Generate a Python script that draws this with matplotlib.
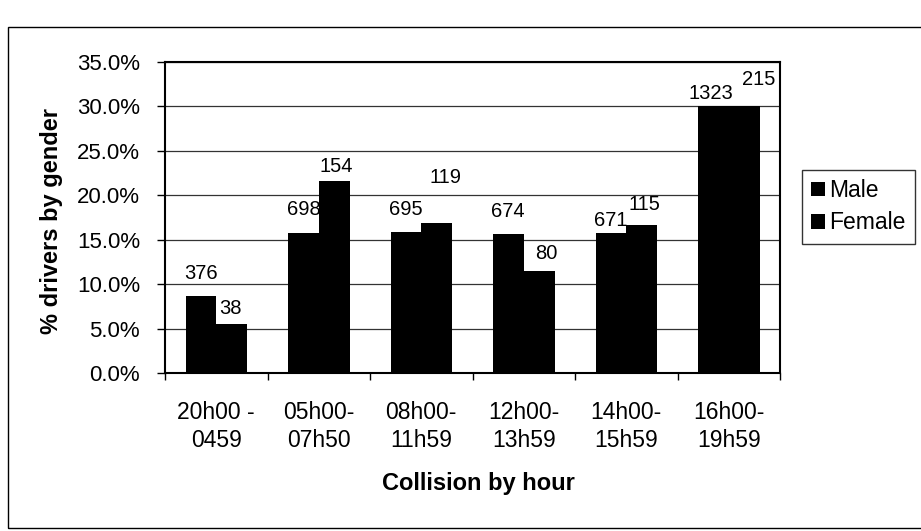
import matplotlib
matplotlib.use("Agg")
import matplotlib.pyplot as plt
import numpy as np
from matplotlib.patches import Patch, Rectangle
from matplotlib.ticker import FuncFormatter

plt.rcParams['font.family'] = ['Liberation Sans', 'DejaVu Sans']

# data
hours = ["20h00 -\n0459", "05h00-\n07h50", "08h00-\n11h59",
         "12h00-\n13h59", "14h00-\n15h59", "16h00-\n19h59"]
male_pct = [8.7, 15.8, 15.9, 15.6, 15.7, 30.1]
female_pct = [5.5, 21.6, 16.9, 11.5, 16.6, 30.1]
male_count = [376, 698, 695, 674, 671, 1323]
female_count = [38, 154, 119, 80, 115, 215]

# label nudges (pixels) as placed on the original sheet
male_nudge = [(0, 22), (0, 23), (0, 22), (-1, 23), (0, 13), (-3, 12)]
female_nudge = [(-1, 16), (2, 15), (9, 45), (7, 17), (3, 21), (15, 26)]

fig = plt.figure(figsize=(9.21, 5.31), dpi=100)
ax = fig.add_axes([165 / 921, 1 - 373 / 531, 615 / 921, 311 / 531])

x = np.arange(len(hours))
w = 0.3
ax.bar(x - w / 2, male_pct, w, color='black', label='Male', zorder=3)
ax.bar(x + w / 2, female_pct, w, color='black', label='Female', zorder=3)

for i in range(len(hours)):
    ax.annotate(str(male_count[i]), (x[i] - w / 2, male_pct[i]),
                xytext=male_nudge[i], textcoords='offset pixels',
                ha='center', va='center', fontsize=14.5, zorder=4)
    ax.annotate(str(female_count[i]), (x[i] + w / 2, female_pct[i]),
                xytext=female_nudge[i], textcoords='offset pixels',
                ha='center', va='center', fontsize=14.5, zorder=4)

ax.set_xlim(-0.5, len(hours) - 0.5)
ax.set_ylim(0, 35)
ax.set_yticks(np.arange(0, 35.1, 5))
ax.yaxis.set_major_formatter(FuncFormatter(lambda v, p: f"{v:.1f}%"))
ax.yaxis.grid(True, color='#333333', lw=0.9, zorder=0)

# ticks at category boundaries, labels at centres
ax.set_xticks(np.arange(-0.5, len(hours), 1.0))
ax.set_xticklabels([])
ax.set_xticks(x, minor=True)
ax.set_xticklabels(hours, minor=True, fontsize=16.5, linespacing=1.3)
ax.tick_params(axis='x', which='minor', length=0, pad=20)
ax.tick_params(axis='x', which='major', length=5, width=1, direction='out')
ax.tick_params(axis='y', labelsize=16, length=6, width=1, pad=12)

for s in ax.spines.values():
    s.set_linewidth(1.5)
    s.set_color('black')

ax.set_ylabel('% drivers by gender', fontsize=17, fontweight='bold', va='center')
ax.yaxis.set_label_coords(-0.185, 0.49)
ax.set_xlabel('Collision by hour', fontsize=17, fontweight='bold', va='center')
ax.xaxis.set_label_coords(0.51, -0.354)

handles = [Patch(facecolor='black', label='Male'),
           Patch(facecolor='black', label='Female')]
leg = fig.legend(handles=handles, loc='upper left',
                 bbox_to_anchor=(802 / 921, 1 - 170 / 531),
                 fontsize=16.5, frameon=True, fancybox=False,
                 handlelength=0.6, handleheight=0.6, handletextpad=0.2,
                 labelspacing=0.4, borderpad=0.4, borderaxespad=0)
leg.get_frame().set_edgecolor('black')
leg.get_frame().set_linewidth(1)

# outer chart border from the scanned sheet
fig.patches.append(Rectangle((8 / 921, 3 / 531), 1.2, 1 - 30 / 531,
                             transform=fig.transFigure, fill=False,
                             edgecolor='black', lw=1))

fig.savefig('out.png', dpi=100)
